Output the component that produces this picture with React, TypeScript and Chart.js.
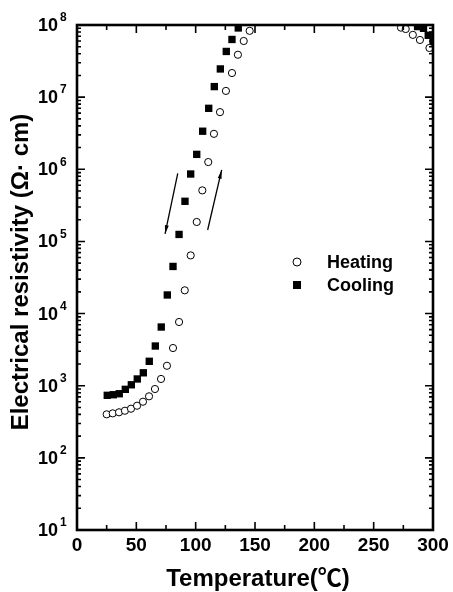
import React, { useEffect, useRef } from 'react';
import { Chart, registerables } from 'chart.js';
Chart.register(...registerables);

// ---- data ----
const heatingT = [25.0, 30.1, 35.4, 40.4, 45.5, 50.6, 55.6, 60.7, 65.7, 70.8, 75.8, 80.9, 86.0, 90.8, 95.8, 100.9, 105.6, 110.6, 115.4, 120.5, 125.5, 130.6, 135.6, 140.5, 145.5, 273, 277, 283, 289, 297];
const heatingR = [401, 414, 428, 450, 480, 528, 600, 713, 900, 1240, 1890, 3330, 7640, 2.1e4, 6.4e4, 1.86e5, 5.1e5, 1.26e6, 3.1e6, 6.2e6, 1.22e7, 2.16e7, 3.87e7, 6.0e7, 8.3e7, 9.2e7, 8.8e7, 7.3e7, 6.2e7, 4.8e7];
const coolingT = [25.5, 30.6, 35.6, 40.7, 45.8, 50.8, 55.9, 60.9, 66.0, 71.0, 76.1, 80.9, 86.0, 91.0, 95.8, 100.9, 105.9, 111.0, 115.7, 120.8, 125.8, 130.6, 135.9, 287, 292, 296, 300];
const coolingR = [736, 750, 774, 891, 1030, 1240, 1510, 2180, 3550, 6510, 1.81e4, 4.5e4, 1.25e5, 3.6e5, 8.6e5, 1.61e6, 3.37e6, 7.0e6, 1.40e7, 2.46e7, 4.3e7, 6.3e7, 9.1e7, 9.5e7, 9.0e7, 7.2e7, 5.8e7];

const xTickValues = [0, 50, 100, 150, 200, 250, 300];
const xMinorValues = [25, 75, 125, 175, 225, 275];
const yTickExponents = [1, 2, 3, 4, 5, 6, 7, 8];
const seriesNames = ['Heating', 'Cooling'];
const xTitle = 'Temperature(\u2103)';
const yTitle = 'Electrical resistivity (\u03A9\u00B7 cm)';

// arrows: [T, resistivity] start -> end
const arrowDown = [[84.9, 8.8e5], [74.2, 1.27e5]];
const arrowUp = [[110.1, 1.44e5], [121.9, 9.8e5]];

const FONT = '"Liberation Sans", Arial, "Noto Sans CJK SC", sans-serif';

function drawArrow(ctx: CanvasRenderingContext2D, x1: number, y1: number, x2: number, y2: number) {
  ctx.beginPath();
  ctx.moveTo(x1, y1);
  ctx.lineTo(x2, y2);
  ctx.stroke();
  const ang = Math.atan2(y2 - y1, x2 - x1);
  const len = 9;
  const w = 0.22;
  ctx.beginPath();
  ctx.moveTo(x2, y2);
  ctx.lineTo(x2 - len * Math.cos(ang - w), y2 - len * Math.sin(ang - w));
  ctx.lineTo(x2 - len * Math.cos(ang + w), y2 - len * Math.sin(ang + w));
  ctx.closePath();
  ctx.fill();
}

const decoPlugin = {
  id: 'deco',
  afterDatasetsDraw(chart: any) {
    const { ctx, chartArea: a, scales } = chart;
    const xs = scales.x;
    const ys = scales.y;
    ctx.save();
    ctx.strokeStyle = '#000';
    ctx.fillStyle = '#000';

    // ticks (inside)
    ctx.lineWidth = 1.6;
    const tickX = (v: number, len: number) => {
      const px = xs.getPixelForValue(v);
      ctx.beginPath();
      ctx.moveTo(px, a.bottom);
      ctx.lineTo(px, a.bottom - len);
      ctx.moveTo(px, a.top);
      ctx.lineTo(px, a.top + len);
      ctx.stroke();
    };
    xTickValues.forEach((v) => tickX(v, 8));
    xMinorValues.forEach((v) => tickX(v, 5));
    const tickY = (v: number, len: number) => {
      const py = ys.getPixelForValue(v);
      ctx.beginPath();
      ctx.moveTo(a.left, py);
      ctx.lineTo(a.left + len, py);
      ctx.moveTo(a.right, py);
      ctx.lineTo(a.right - len, py);
      ctx.stroke();
    };
    yTickExponents.forEach((e) => {
      tickY(Math.pow(10, e), 8);
      if (e < 8) {
        for (let m = 2; m <= 9; m++) tickY(m * Math.pow(10, e), 4);
      }
    });

    // frame
    ctx.lineWidth = 2.6;
    ctx.strokeRect(a.left, a.top, a.right - a.left, a.bottom - a.top);

    // y tick labels
    yTickExponents.forEach((e) => {
      const py = ys.getPixelForValue(Math.pow(10, e));
      ctx.font = `bold 18px ${FONT}`;
      ctx.textAlign = 'right';
      ctx.textBaseline = 'middle';
      ctx.fillText('10', 58, py + 1);
      ctx.font = `bold 12px ${FONT}`;
      ctx.textAlign = 'left';
      ctx.fillText(String(e), 60, py - 7);
    });

    // x tick labels
    ctx.font = `bold 19px ${FONT}`;
    ctx.textAlign = 'center';
    ctx.textBaseline = 'middle';
    xTickValues.forEach((v) => {
      ctx.fillText(String(v), xs.getPixelForValue(v), 546);
    });

    // axis titles
    ctx.font = `bold 24px ${FONT}`;
    ctx.textAlign = 'center';
    ctx.textBaseline = 'alphabetic';
    ctx.fillText(xTitle, 258, 586);

    ctx.save();
    ctx.translate(28, 272);
    ctx.rotate(-Math.PI / 2);
    ctx.font = `bold 24px ${FONT}`;
    ctx.fillText(yTitle, 0, 0);
    ctx.restore();

    // legend
    ctx.lineWidth = 1;
    ctx.beginPath();
    ctx.arc(297, 262, 4, 0, Math.PI * 2);
    ctx.stroke();
    ctx.fillRect(293, 281, 8, 8);
    ctx.font = `bold 18px ${FONT}`;
    ctx.textAlign = 'left';
    ctx.textBaseline = 'middle';
    ctx.fillText(seriesNames[0], 327, 263);
    ctx.fillText(seriesNames[1], 327, 286);

    // arrows
    ctx.lineWidth = 1.3;
    [arrowDown, arrowUp].forEach((arr) => {
      drawArrow(
        ctx,
        xs.getPixelForValue(arr[0][0]), ys.getPixelForValue(arr[0][1]),
        xs.getPixelForValue(arr[1][0]), ys.getPixelForValue(arr[1][1])
      );
    });

    ctx.restore();
  },
};

export default function App() {
  const ref = useRef<HTMLCanvasElement>(null);
  useEffect(() => {
    if (!ref.current) return;
    const chart = new Chart(ref.current, {
      type: 'scatter',
      data: {
        datasets: [
          {
            label: seriesNames[0],
            data: heatingT.map((t, i) => ({ x: t, y: heatingR[i] })),
            pointStyle: 'circle',
            pointRadius: 3.6,
            borderColor: '#000',
            backgroundColor: '#fff',
            borderWidth: 1,
            clip: 0,
          } as any,
          {
            label: seriesNames[1],
            data: coolingT.map((t, i) => ({ x: t, y: coolingR[i] })),
            pointStyle: 'rect',
            pointRadius: 5.2,
            borderColor: '#000',
            backgroundColor: '#000',
            borderWidth: 0,
            clip: 0,
          } as any,
        ],
      },
      options: {
        animation: false,
        responsive: false,
        devicePixelRatio: 1,
        layout: { padding: { left: 77, right: 20, top: 25, bottom: 62 } },
        plugins: { legend: { display: false }, tooltip: { enabled: false } },
        scales: {
          x: { type: 'linear', min: 0, max: 300, display: false },
          y: { type: 'logarithmic', min: 10, max: 1e8, display: false },
        },
      },
      plugins: [decoPlugin],
    });
    return () => chart.destroy();
  }, []);
  return (
    <div style={{ position: 'fixed', left: 0, top: 0, width: 453, height: 592, background: '#fff' }}>
      <canvas ref={ref} width={453} height={592} style={{ display: 'block' }} />
    </div>
  );
}
